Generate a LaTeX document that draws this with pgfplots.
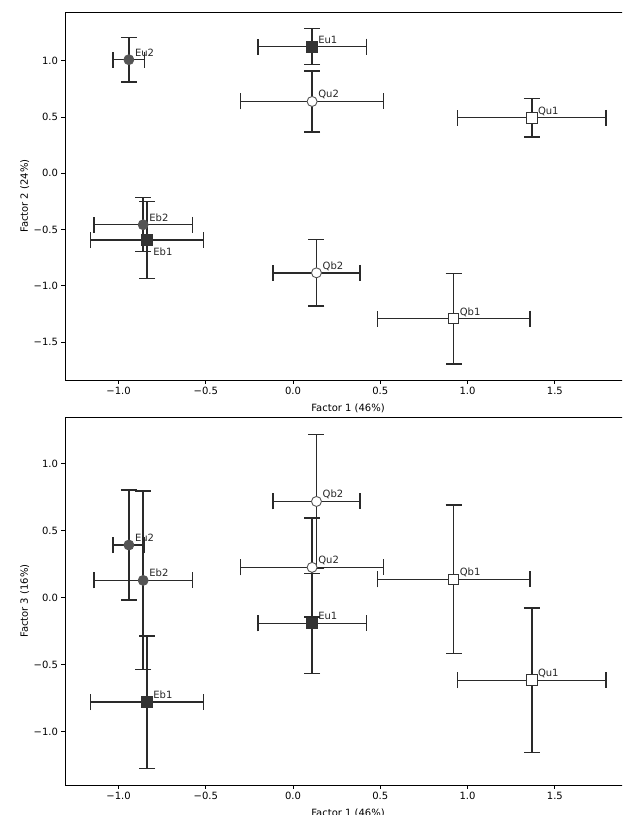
\documentclass[border=0pt]{standalone}
\usepackage{pgfplots}
\pgfplotsset{compat=1.18}
\usepackage{fontspec}
\setmainfont{DejaVu Sans}
\definecolor{dk}{HTML}{333333}
\definecolor{md}{HTML}{555555}
\definecolor{eb}{HTML}{2a2a2a}
\pgfplotsset{
  pt/.style={only marks,
    /pgfplots/error bars/x dir=both, /pgfplots/error bars/x explicit,
    /pgfplots/error bars/y dir=both, /pgfplots/error bars/y explicit,
    /pgfplots/error bars/error bar style={line width=1.4pt, color=eb},
    /pgfplots/error bars/error mark options={rotate=90, line width=1.4pt, color=eb, mark size=8pt}},
  sqd/.style={pt, mark=square*, mark size=5.3pt, mark options={fill=dk, draw=dk, line width=0.8pt}},
  sqw/.style={pt, mark=square*, mark size=5.3pt, mark options={fill=white, draw=dk, line width=0.9pt}},
  cid/.style={pt, mark=*, mark size=5pt, mark options={fill=md, draw=md, line width=0.8pt}},
  ciw/.style={pt, mark=*, mark size=5pt, mark options={fill=white, draw=md, line width=0.9pt}},
  common/.style={scale only axis, width=566.1pt, height=367.7pt,
    xmin=-1.307, xmax=1.937, clip=false,
    axis line style={line width=0.8pt, black},
    tick align=outside, major tick length=3.5pt,
    every tick/.style={line width=0.8pt, black},
    xtick pos=lower, ytick pos=left,
    xtick={-1,-0.5,0,0.5,1,1.5},
    xticklabels={−1.0,−0.5,0.0,0.5,1.0,1.5},
    ticklabel style={font=\fontsize{10}{12}\selectfont},
    label style={font=\fontsize{10}{12}\selectfont},
    xlabel={Factor 1 (46\%)},
    xlabel style={at={(axis description cs:0.5,-0.0843)}, anchor=base, inner sep=0pt},
    ylabel style={at={(axis description cs:-0.0654,0.5)}, anchor=base, inner sep=0pt, rotate=0},
  },
}
\tikzset{lbl/.style={anchor=base west, inner sep=0pt, xshift=6pt, yshift=3.5pt, font=\fontsize{10}{12}\selectfont, text=black!85}}
\begin{document}
\begin{tikzpicture}
\useasboundingbox (0,0) rectangle (622pt,-815pt);
\clip (0,0) rectangle (622pt,-815pt);
\fill[white] (0,0) rectangle (622pt,-815pt);
% ---------- top panel: Factor 1 vs Factor 2
\begin{axis}[common, at={(65pt,-12.3pt)}, anchor=north west,
  ymin=-1.836, ymax=1.43,
  ytick={-1.5,-1,-0.5,0,0.5,1},
  yticklabels={−1.5,−1.0,−0.5,0.0,0.5,1.0},
  ylabel={Factor 2 (24\%)}]
\addplot[cid] coordinates {(-0.941,1.009) +- (0.090,0.199)};
\addplot[cid] coordinates {(-0.859,-0.457) +- (0.281,0.240)};
\addplot[sqd] coordinates {(0.109,1.125) +- (0.311,0.159)};
\addplot[sqd] coordinates {(-0.836,-0.593) +- (0.3235,0.340)};
\addplot[ciw] coordinates {(0.109,0.638) +- (0.410,0.270)};
\addplot[ciw] coordinates {(0.134,-0.884) +- (0.250,0.294)};
\addplot[sqw] coordinates {(1.368,0.493) +- (0.425,0.171)};
\addplot[sqw] coordinates {(0.920,-1.291) +- (0.4375,0.402)};
\node[lbl] at (axis cs:-0.941,1.009) {Eu2};
\node[lbl] at (axis cs:-0.859,-0.457) {Eb2};
\node[lbl] at (axis cs:0.109,1.125) {Eu1};
\node[lbl, yshift=-19.1pt] at (axis cs:-0.836,-0.593) {Eb1};
\node[lbl] at (axis cs:0.109,0.638) {Qu2};
\node[lbl] at (axis cs:0.134,-0.884) {Qb2};
\node[lbl] at (axis cs:1.368,0.493) {Qu1};
\node[lbl] at (axis cs:0.920,-1.291) {Qb1};
\end{axis}
% ---------- bottom panel: Factor 1 vs Factor 3
\begin{axis}[common, at={(65pt,-417.3pt)}, anchor=north west,
  ymin=-1.398, ymax=1.346,
  ytick={-1,-0.5,0,0.5,1},
  yticklabels={−1.0,−0.5,0.0,0.5,1.0},
  ylabel={Factor 3 (16\%)}]
\addplot[cid] coordinates {(-0.941,0.393) +- (0.090,0.410)};
\addplot[cid] coordinates {(-0.859,0.129) +- (0.281,0.667)};
\addplot[sqd] coordinates {(0.109,-0.191) +- (0.311,0.373)};
\addplot[sqd] coordinates {(-0.836,-0.780) +- (0.3235,0.493)};
\addplot[ciw] coordinates {(0.109,0.226) +- (0.410,0.370)};
\addplot[ciw] coordinates {(0.134,0.718) +- (0.250,0.499)};
\addplot[sqw] coordinates {(1.368,-0.616) +- (0.425,0.540)};
\addplot[sqw] coordinates {(0.920,0.137) +- (0.4375,0.555)};
\node[lbl] at (axis cs:-0.941,0.393) {Eu2};
\node[lbl] at (axis cs:-0.859,0.129) {Eb2};
\node[lbl] at (axis cs:0.109,-0.191) {Eu1};
\node[lbl] at (axis cs:-0.836,-0.780) {Eb1};
\node[lbl] at (axis cs:0.109,0.226) {Qu2};
\node[lbl] at (axis cs:0.134,0.718) {Qb2};
\node[lbl] at (axis cs:1.368,-0.616) {Qu1};
\node[lbl] at (axis cs:0.920,0.137) {Qb1};
\end{axis}
\end{tikzpicture}
\end{document}
